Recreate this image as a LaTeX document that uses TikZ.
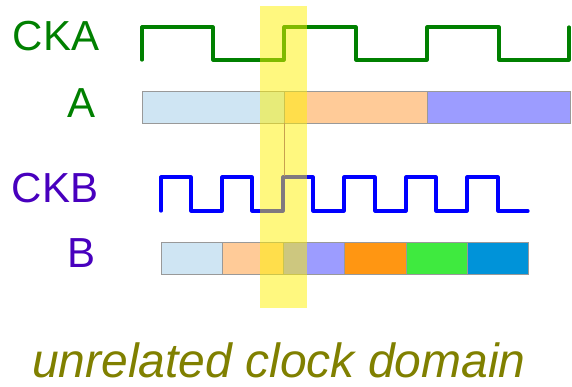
\documentclass[tikz,border=0pt]{standalone}
\usepackage{fontspec}
\setmainfont{Liberation Sans}
\definecolor{ckagreen}{HTML}{008000}
\definecolor{ckbpurple}{HTML}{4800BE}
\definecolor{ckbblue}{HTML}{0000FF}
\definecolor{olivetxt}{HTML}{808000}
\definecolor{barborder}{HTML}{999999}
\definecolor{lblue}{HTML}{CFE5F3}
\definecolor{peach}{HTML}{FFCB98}
\definecolor{lavender}{HTML}{9C9CFF}
\definecolor{dorange}{HTML}{FF9612}
\definecolor{lgreen}{HTML}{3FEA3F}
\definecolor{mblue}{HTML}{0093D9}
\definecolor{tanline}{HTML}{C8A050}
\begin{document}
\begin{tikzpicture}[x=1pt,y=-1pt,
  clk/.style={line width=3.2pt, line join=round, line cap=round},
  seg/.style={draw=barborder, line width=1pt},
  lbl/.style={font=\fontsize{42}{42}\selectfont, anchor=base, inner sep=0pt},
  hl/.style={fill=yellow, fill opacity=0.5}]
\useasboundingbox (0,0) rectangle (572,386);
% labels
\node[lbl, text=ckagreen] (lcka) at (56,50) {CKA};
\node[lbl, text=ckagreen] (la) at (82,117) {A};
\node[lbl, text=ckbpurple] (lckb) at (55,202) {CKB};
\node[lbl, text=ckbpurple] (lb) at (82,267) {B};
% clock A
\draw[clk, ckagreen] (142,60) |- (213,27) |- (284,60) |- (356,27) |- (427,60) |- (499,27) |- (569,60) -- (569,27);
% bus A
\draw[seg, fill=lblue] (142,91) rectangle (284,123);
\draw[seg, fill=peach] (284,91) rectangle (427,123);
\draw[seg, fill=lavender] (427,91) rectangle (570,123);
% clock B
\draw[clk, ckbblue] (161,211) |- (191,177) |- (222,211) |- (252,177) |- (283,211) |- (313,177) |- (344,211) |- (375,177) |- (406,211) |- (436,177) |- (467,211) |- (498,177) |- (528,211);
% bus B
\draw[seg, fill=lblue] (161,242) rectangle (222,274);
\draw[seg, fill=peach] (222,242) rectangle (283,274);
\draw[seg, fill=lavender] (283,242) rectangle (344,274);
\draw[seg, fill=dorange] (344,242) rectangle (406,274);
\draw[seg, fill=lgreen] (406,242) rectangle (467,274);
\draw[seg, fill=mblue] (467,242) rectangle (528,274);
% highlight
\fill[hl] (260,6) rectangle (307,308);
\coordinate (vtop) at (284,123);
\coordinate (vbot) at (284,176);
\draw[tanline, line width=1pt] (vtop) -- (vbot);
% caption
\node[font=\fontsize{48}{48}\selectfont\itshape, text=olivetxt, anchor=base, inner sep=0pt] (cap) at (279,377) {unrelated clock domain};
\end{tikzpicture}
\end{document}
